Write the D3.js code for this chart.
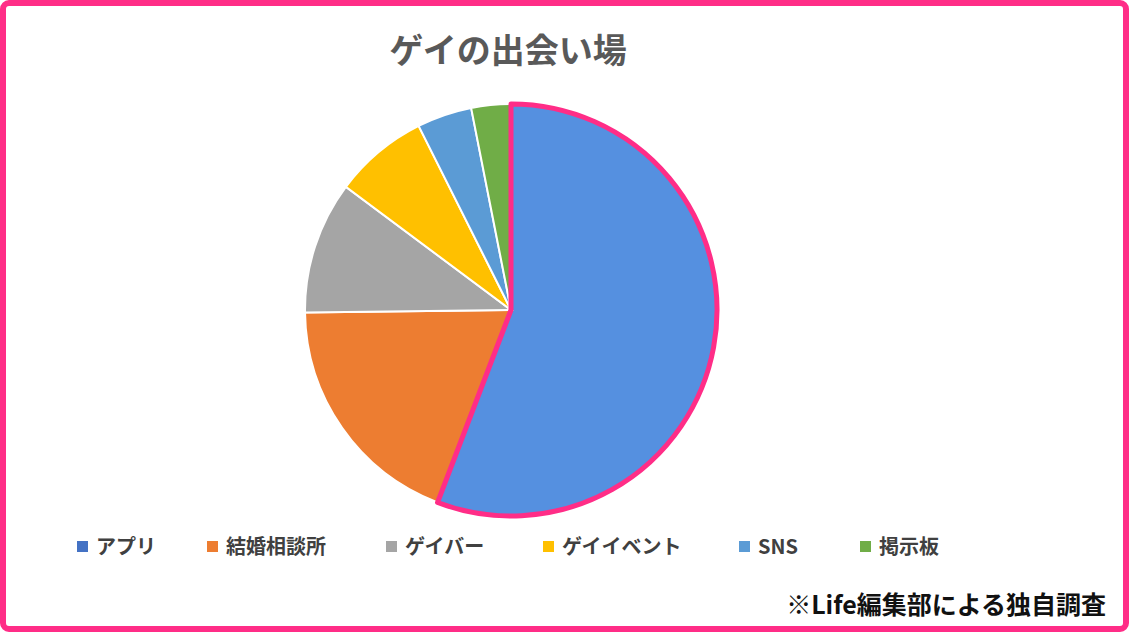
<!DOCTYPE html>
<html><head><meta charset="utf-8">
<script src="https://cdn.jsdelivr.net/npm/d3@7"></script>
<style>
body{margin:0;background:#fff;}
text{font-family:"Noto Sans CJK JP","Noto Sans",sans-serif;font-weight:bold;}
</style></head>
<body><svg id="chart" width="1129" height="632"></svg>
<script>
var categories = ['アプリ','結婚相談所','ゲイバー','ゲイイベント','SNS','掲示板'];
var values = [55.8, 19.0, 10.4, 7.4, 4.3, 3.1];
var sliceColors = ['#5590E0','#ED7D31','#A5A5A5','#FFC000','#5B9BD5','#70AD47'];
var legendColors = ['#4472C4','#ED7D31','#A5A5A5','#FFC000','#5B9BD5','#70AD47'];
var legendX = [77, 207, 386, 543, 739, 860];

var svg = d3.select('#chart');
svg.append('rect').attr('x',3).attr('y',3).attr('width',1123).attr('height',626)
    .attr('rx',6).attr('fill','#fff').attr('stroke','#FF2D87').attr('stroke-width',6);

svg.append('text').attr('x',508).attr('y',63).attr('text-anchor','middle')
    .attr('font-size',34).attr('fill','#595959').text('ゲイの出会い場');

var pie = d3.pie().sort(null).value(function(d){ return d; });
var arc = d3.arc().innerRadius(0).outerRadius(206);
var g = svg.append('g').attr('transform','translate(511,310)');
var arcs = pie(values);
g.selectAll('path.s').data(arcs).enter().append('path')
    .attr('d',arc).attr('fill',function(d,i){ return sliceColors[i]; })
    .attr('stroke','#fff').attr('stroke-width',2);
// highlighted slice
g.append('path').attr('d',arc(arcs[0])).attr('fill','none')
    .attr('stroke','#FF2D87').attr('stroke-width',5).attr('stroke-linejoin','round');

var lg = svg.selectAll('g.lg').data(categories).enter().append('g')
    .attr('transform',function(d,i){ return 'translate('+legendX[i]+',547)'; });
lg.append('rect').attr('x',0).attr('y',-6).attr('width',11).attr('height',11)
    .attr('fill',function(d,i){ return legendColors[i]; });
lg.append('text').attr('x',19).attr('y',7).attr('font-size',20).attr('fill','#404040')
    .text(function(d){ return d; });

svg.append('text').attr('x',1106).attr('y',614).attr('text-anchor','end')
    .attr('font-size',25).attr('fill','#111').text('※Life編集部による独自調査');
</script></body></html>
